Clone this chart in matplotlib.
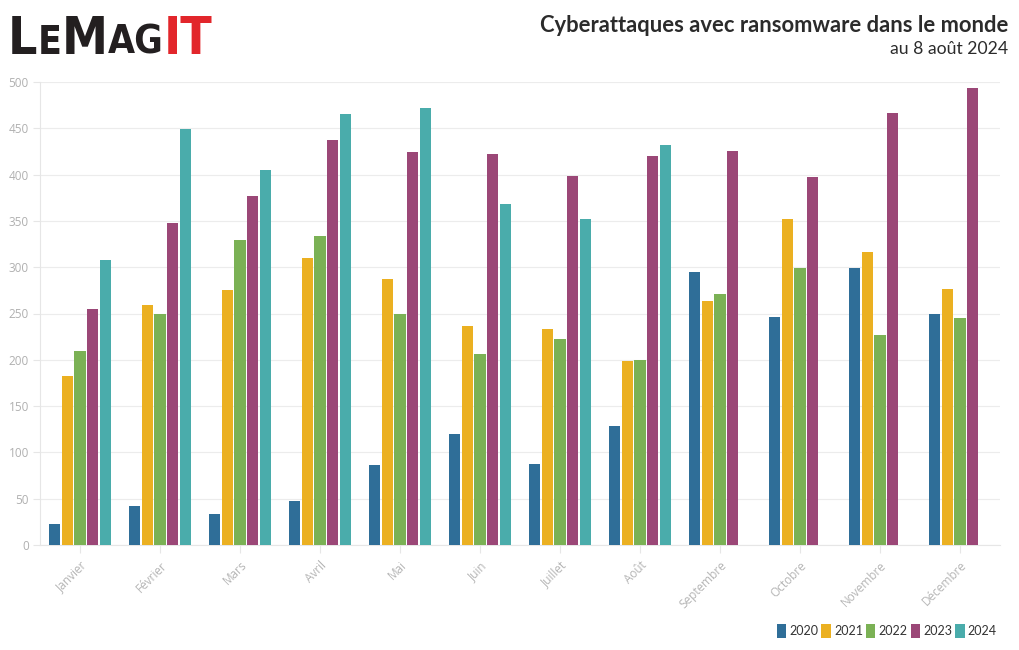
import numpy as np
import matplotlib
matplotlib.use("Agg")
import matplotlib.pyplot as plt
from matplotlib.patches import Patch
from matplotlib.offsetbox import TextArea, HPacker, AnnotationBbox

mois = ["Janvier", "Février", "Mars", "Avril", "Mai", "Juin", "Juillet",
        "Août", "Septembre", "Octobre", "Novembre", "Décembre"]
annees = ["2020", "2021", "2022", "2023", "2024"]

v2020 = [23, 42, 33, 47, 86, 120, 88, 128, 295, 246, 299, 250]
v2021 = [182, 259, 275, 310, 287, 237, 233, 199, 263, 352, 316, 276]
v2022 = [210, 250, 329, 334, 250, 206, 222, 200, 271, 299, 227, 245]
v2023 = [255, 348, 377, 437, 424, 422, 398, 420, 426, 397, 467, 493]
v2024 = [308, 449, 405, 465, 472, 368, 352, 432]

series = [v2020, v2021, v2022, v2023, v2024]
couleurs = ["#2f6e98", "#ebb021", "#7bb155", "#9b4777", "#4aacab"]

fig = plt.figure(figsize=(10.2, 6.5), dpi=100)
ax = fig.add_axes([40/1020, 105/650, 960/1020, 463/650])

x = np.arange(len(mois))
slot = 0.158
bw = 0.14
for i, (vals, c) in enumerate(zip(series, couleurs)):
    xs = x[:len(vals)] + (i - 2) * slot
    ax.bar(xs, vals, width=bw, color=c, edgecolor="none", zorder=3)

ax.set_xlim(-0.5, 11.5)
ax.set_ylim(0, 500)
ax.set_yticks(np.arange(0, 501, 50))
ax.grid(axis="y", color="#ececec", linewidth=0.8, zorder=0)
for s in ["top", "right"]:
    ax.spines[s].set_visible(False)
for s in ["left", "bottom"]:
    ax.spines[s].set_color("#e6e6e6")
    ax.spines[s].set_linewidth(0.8)

ax.set_xticks(x)
ax.set_xticklabels(mois, rotation=45, ha="right", va="top",
                   rotation_mode="anchor", family="Open Sans",
                   fontsize=8.5, color="#b5b5b5")
ax.tick_params(axis="x", length=6, color="#e6e6e6", pad=4)
ax.tick_params(axis="y", length=5, color="#e6e6e6", labelsize=8.5,
               labelcolor="#b0b0b0", pad=3)
for lab in ax.get_yticklabels():
    lab.set_family("Open Sans")

# titre
fig.text(1008/1020, 1 - 32/650, "Cyberattaques avec ransomware dans le monde",
         ha="right", va="baseline", fontsize=15.8, fontweight="bold",
         family="Lato", color="#2b2b2b")
fig.text(1008/1020, 1 - 54/650, "au 8 août 2024", ha="right", va="baseline",
         fontsize=12.7, family="Lato", color="#2b2b2b")

# logo
morceaux = [("L", 37, "#231f20"), ("E", 28, "#231f20"), ("M", 37, "#231f20"),
            ("AG", 28, "#231f20"), ("IT", 37, "#e2262b")]
boites = [TextArea(t, textprops=dict(fontsize=s, color=c, fontweight="bold",
                                     family="DejaVu Sans",
                                     fontstretch="condensed"))
          for t, s, c in morceaux]
pack = HPacker(children=boites, align="baseline", pad=0, sep=0)
ab = AnnotationBbox(pack, (8/1020, 1 - 65/650), xycoords="figure fraction",
                    box_alignment=(0, 0), frameon=False, pad=0)
fig.add_artist(ab)

# légende
poignees = [Patch(facecolor=c, edgecolor="none", label=a)
            for a, c in zip(annees, couleurs)]
fig.legend(handles=poignees, loc="center right", ncol=5,
           bbox_to_anchor=(1002/1020, 1 - 631/650), frameon=False,
           handlelength=0.75, handleheight=1.3, handletextpad=0.25,
           columnspacing=0.25, prop={"family": "Lato", "size": 9},
           labelcolor="#333333", borderaxespad=0)

fig.savefig("out.png", dpi=100)
